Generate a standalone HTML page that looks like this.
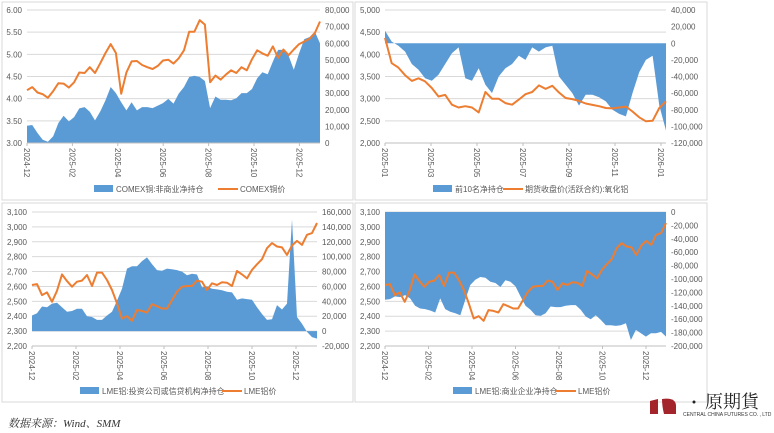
<!DOCTYPE html>
<html><head><meta charset="utf-8"><style>
html,body{margin:0;padding:0;background:#fff;width:774px;height:433px;overflow:hidden}
svg{display:block}
text{font-family:"Liberation Sans","Noto Sans CJK SC",sans-serif;fill:#595959}
</style></head><body>
<svg id="c" width="774" height="433" viewBox="0 0 774 433" xmlns="http://www.w3.org/2000/svg">
<rect x="2" y="2" width="351" height="198" fill="#fff" stroke="#d9d9d9"/>
<rect x="355" y="2" width="352" height="198" fill="#fff" stroke="#d9d9d9"/>
<rect x="2" y="203" width="351" height="199" fill="#fff" stroke="#d9d9d9"/>
<rect x="355" y="203" width="352" height="199" fill="#fff" stroke="#d9d9d9"/>
<text x="8" y="427" font-size="11" font-style="italic" style="fill:#333;font-family:'Liberation Serif','Noto Serif CJK SC',serif">数据来源：Wind、SMM</text>
<g>
<path d="M650 401 L658 399 L658 414 L650 414 Z" fill="#a3242b"/>
<path d="M662 399 Q676 397 676 406 L676 414 L664 414 Q662 406 662 399 Z" fill="#a3242b"/>
<circle cx="694" cy="402" r="1.5" fill="#222"/>
<text x="705" y="408" font-size="18" style="fill:#222;font-family:'Noto Serif CJK SC',serif">原期貨</text>
<text x="683" y="416" font-size="5" style="fill:#333">CENTRAL CHINA FUTURES CO. , LTD</text>
</g>
</svg>
<script>
// Panel 1: COMEX copper
const p1Price=[4.19,4.26,4.14,4.10,4.02,4.17,4.35,4.34,4.25,4.37,4.59,4.58,4.71,4.58,4.80,5.03,5.23,5.03,4.11,4.59,4.84,4.85,4.76,4.71,4.67,4.74,4.86,4.88,4.79,4.91,5.09,5.51,5.51,5.77,5.67,4.37,4.52,4.43,4.54,4.64,4.58,4.71,4.64,4.89,5.09,5.02,4.97,5.18,4.92,5.11,4.98,5.11,5.23,5.29,5.35,5.48,5.74];
const p1Net=[10400,10800,6000,2000,800,4000,12000,16400,13000,15600,20800,21600,18800,13600,19000,25700,33700,30000,24500,19600,24500,19600,21600,21600,21000,22500,24000,26500,23700,29700,33700,39700,40500,39700,37300,21000,28000,26000,26000,25700,26900,30000,30000,32500,39000,42500,41300,49000,56000,56000,52500,44000,54000,62500,63700,67000,60000];
const p1Ticks=["2024-12","2025-02","2025-04","2025-06","2025-08","2025-10","2025-12"];
const p1Left=["3.00","3.50","4.00","4.50","5.00","5.50","6.00"];
const p1Right=["0","10,000","20,000","30,000","40,000","50,000","60,000","70,000","80,000"];
// Panel 2: alumina
const p2Price=[4370,3800,3700,3530,3400,3460,3390,3240,3050,3085,2865,2800,2830,2800,2690,3150,3000,3000,2900,2865,2980,3100,3150,3300,3220,3290,3140,3015,2990,2950,2890,2860,2830,2790,2780,2800,2820,2710,2580,2490,2500,2790,2940];
const p2Net=[15000,2000,-3000,-10000,-25000,-32000,-42000,-45000,-38000,-25000,-12000,-5000,-42000,-45000,-30000,-50000,-60000,-40000,-30000,-25000,-15000,-20000,-5000,-10000,-5000,-3000,-40000,-50000,-60000,-75000,-62000,-62000,-65000,-70000,-80000,-85000,-88000,-60000,-35000,-20000,-15000,-75000,-105000];
const p2Ticks=["2025-01","2025-03","2025-05","2025-07","2025-09","2025-11","2026-01"];
const p2Left=["2,000","2,500","3,000","3,500","4,000","4,500","5,000"];
const p2Right=["-120,000","-100,000","-80,000","-60,000","-40,000","-20,000","0","20,000","40,000"];
// Panels 3/4: LME aluminium
const lmePrice=[2610,2616,2542,2560,2497,2571,2681,2636,2598,2632,2639,2677,2603,2693,2693,2643,2576,2486,2385,2400,2369,2441,2436,2425,2481,2467,2452,2452,2508,2564,2598,2603,2603,2639,2632,2576,2621,2610,2628,2625,2603,2704,2681,2654,2711,2749,2783,2857,2891,2868,2862,2812,2875,2906,2879,2947,2958,3026];
const p3Net=[21000,24000,33000,32000,37000,38000,32000,26000,27000,30000,30000,20000,19000,15000,15000,21000,26000,41000,57000,84000,87000,87000,94000,99000,90000,82000,81000,84000,83000,82000,80000,75000,77000,76000,59000,60000,57000,56000,55000,53000,52000,42000,44000,43000,42000,32000,23000,15000,16000,35000,29000,37000,150000,19000,10000,-1000,-8000,-10000];
const p4Net=[-131000,-130000,-126000,-127000,-124000,-129000,-140000,-144000,-145000,-147000,-150000,-129000,-145000,-149000,-151000,-154000,-131000,-109000,-101000,-97000,-98000,-104000,-106000,-112000,-102000,-104000,-111000,-126000,-140000,-146000,-154000,-155000,-151000,-141000,-142000,-142000,-140000,-139000,-139000,-146000,-156000,-160000,-154000,-161000,-169000,-169000,-170000,-169000,-166000,-191000,-176000,-181000,-186000,-181000,-181000,-179000,-186000];
const lmeTicks=["2024-12","2025-02","2025-04","2025-06","2025-08","2025-10","2025-12"];
const lmeLeft=["2,200","2,300","2,400","2,500","2,600","2,700","2,800","2,900","3,000","3,100"];
const p3Right=["-20,000","0","20,000","40,000","60,000","80,000","100,000","120,000","140,000","160,000"];
const p4Right=["-200,000","-180,000","-160,000","-140,000","-120,000","-100,000","-80,000","-60,000","-40,000","-20,000","0"];

const NS="http://www.w3.org/2000/svg";
const svg=document.getElementById('c');
function mk(tag,attrs,parent){const e=document.createElementNS(NS,tag);for(const k in attrs)e.setAttribute(k,attrs[k]);(parent||svg).appendChild(e);return e;}
function num(s){return parseFloat(s.replace(/,/g,''));}

function panel(c){
  const g=mk('g',{});
  
  
  const lMin=num(c.left[0]),lMax=num(c.left[c.left.length-1]);
  const rMin=num(c.right[0]),rMax=num(c.right[c.right.length-1]);
  const yL=v=>c.y1-(v-lMin)/(lMax-lMin)*(c.y1-c.y0);
  const yR=v=>c.y1-(v-rMin)/(rMax-rMin)*(c.y1-c.y0);
  const xf=(i,n)=>c.x0+i/(n-1)*(c.x1-c.x0);
  // grid + left labels
  c.left.forEach(t=>{
    const y=yL(num(t));
    const gl=mk('line',{x1:c.x0,x2:c.x1,y1:y,y2:y,stroke:'#d9d9d9','stroke-width':1},g);
    
    
    const tx=mk('text',{x:c.x0-5,y:y+3,'font-size':8,'text-anchor':'end'},g);tx.textContent=t;
    
    
  });
  c.right.forEach(t=>{
    const y=yR(num(t));
    const tx=mk('text',{x:c.x1+5,y:y+3,'font-size':8},g);tx.textContent=t;
    
    
  });
  // area
  const n=c.area.length;const base=yR(Math.max(rMin,Math.min(0,rMax)));
  let d=`M${xf(0,n)},${base}`;
  c.area.forEach((v,i)=>{d+=` L${xf(i,n).toFixed(1)},${yR(v).toFixed(1)}`;});
  d+=` L${xf(n-1,n)},${base} Z`;
  const ar=mk('path',{d:d,fill:'#5b9bd5'},g);
  
  
  // axis line
  const ax=mk('line',{x1:c.x0,x2:c.x1,y1:c.y1,y2:c.y1,stroke:'#bfbfbf'},g);
  
  
  // line
  const m=c.line.length;
  const pts=c.line.map((v,i)=>xf(i,m).toFixed(1)+','+yL(v).toFixed(1)).join(' ');
  const pl=mk('polyline',{points:pts,fill:'none',stroke:'#ed7d31','stroke-width':2,'stroke-linejoin':'round'},g);
  
  
  // x ticks
  c.ticks.forEach((t,i)=>{
    const x=c.x0+i*2*c.pxm;
    mk('line',{x1:x,x2:x,y1:c.y1,y2:c.y1+3,stroke:'#bfbfbf'},g);
    const tx=mk('text',{x:x-3,y:c.y1+5,'font-size':8,transform:`rotate(90 ${x-3} ${c.y1+5})`},g);tx.textContent=t;
    
    
  });
  // legend
  const L=c.leg;
  const lr=mk('rect',{x:L.x,y:L.y-4,width:19,height:7,fill:'#5b9bd5'},g);
  
  
  const lt=mk('text',{x:L.x+22,y:L.y+3,'font-size':8},g);lt.textContent=L.a;
  
  
  const ll=mk('line',{x1:L.x2,x2:L.x2+20,y1:L.y,y2:L.y,stroke:'#ed7d31','stroke-width':2},g);
  
  
  const lt2=mk('text',{x:L.x2+22,y:L.y+3,'font-size':8},g);lt2.textContent=L.b;
  
  
}
panel({name:'comex-copper-panel',x0:27,x1:320,y0:10,y1:143,pxm:22.7,left:p1Left,right:p1Right,area:p1Net,line:p1Price,ticks:p1Ticks,leg:{x:94,y:189,x2:218,a:'COMEX铜:非商业净持仓',b:'COMEX铜价'}});
panel({name:'alumina-panel',x0:385,x1:666,y0:10,y1:143,pxm:23,left:p2Left,right:p2Right,area:p2Net,line:p2Price,ticks:p2Ticks,leg:{x:433,y:189,x2:503,a:'前10名净持仓',b:'期货收盘价(活跃合约):氧化铝'}});
panel({name:'lme-investment-panel',x0:32,x1:317,y0:212,y1:346,pxm:22,left:lmeLeft,right:p3Right,area:p3Net,line:lmePrice,ticks:lmeTicks,leg:{x:80,y:391,x2:222,a:'LME铝:投资公司或信贷机构净持仓',b:'LME铝价'}});
panel({name:'lme-commercial-panel',x0:385,x1:666,y0:212,y1:346,pxm:21.75,left:lmeLeft,right:p4Right,area:p4Net,line:lmePrice,ticks:lmeTicks,leg:{x:453,y:391,x2:556,a:'LME铝:商业企业净持仓',b:'LME铝价'}});
</script>
</body></html>
